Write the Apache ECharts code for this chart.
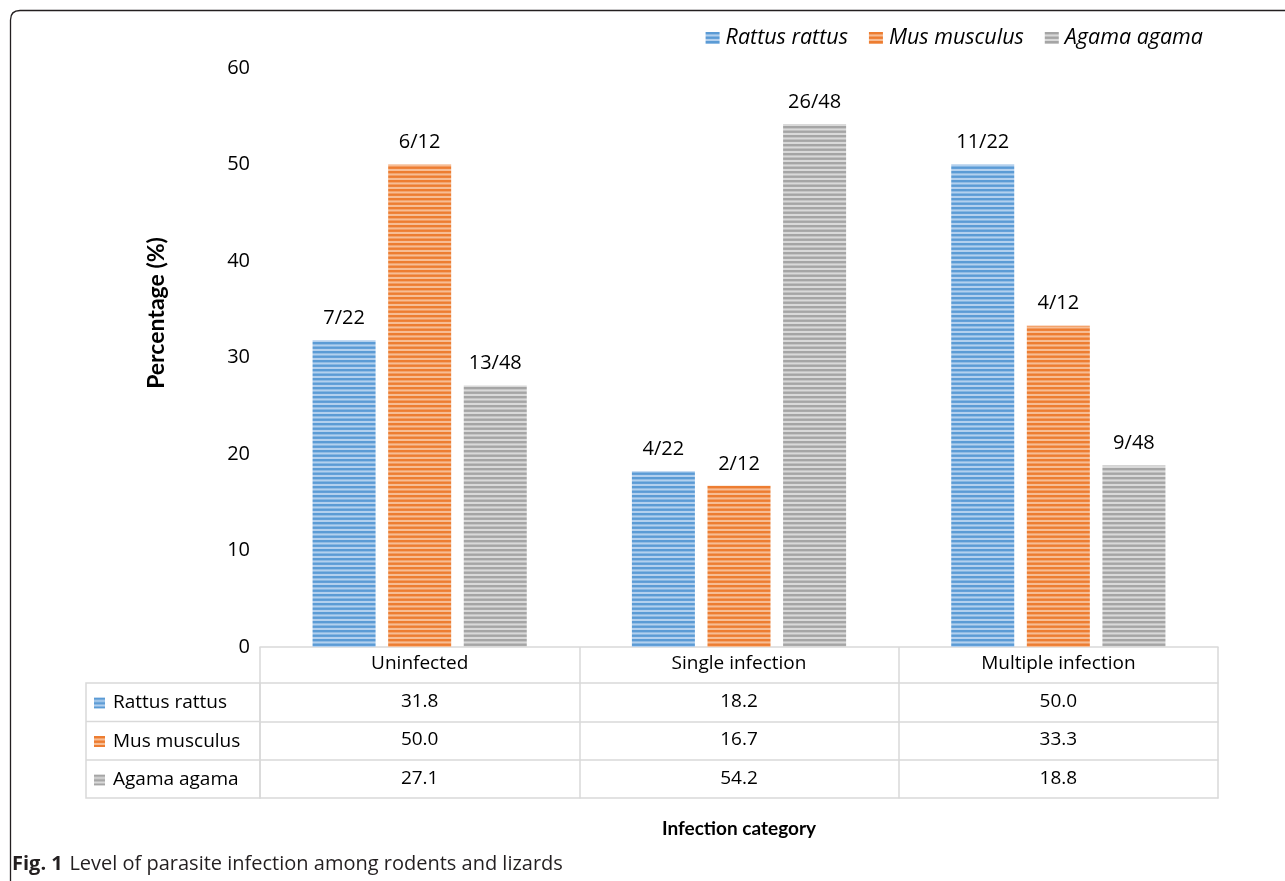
<!DOCTYPE html>
<html>
<head>
<meta charset="utf-8">
<script src="https://cdn.jsdelivr.net/npm/echarts@6/dist/echarts.min.js"></script>
<style>
html,body{margin:0;padding:0;background:#fff;}
#c{width:1285px;height:881px;}
</style>
</head>
<body>
<div id="c"></div>
<script>
const categories = ['Uninfected', 'Single infection', 'Multiple infection'];
const seriesNames = ['Rattus rattus', 'Mus musculus', 'Agama agama'];
const rattusValues = [31.8, 18.2, 50.0];
const musValues = [50.0, 16.7, 33.3];
const agamaValues = [27.1, 54.2, 18.8];
const rattusLabels = ['7/22', '4/22', '11/22'];
const musLabels = ['6/12', '2/12', '4/12'];
const agamaLabels = ['13/48', '26/48', '9/48'];
const yMin = 0, yMax = 60, yStep = 10;
const tableRows = [rattusValues, musValues, agamaValues];

const FONT = 'Open Sans';
const TFONT = 'Lato';
const GRID = '#d9d9d9';

function stripes(dark, light) {
  const c = document.createElement('canvas');
  c.width = 8; c.height = 9;
  const g = c.getContext('2d');
  g.fillStyle = light; g.fillRect(0, 0, 8, 9);
  g.fillStyle = dark;
  g.fillRect(0, 0, 8, 2.4);
  g.fillRect(0, 4.5, 8, 2.4);
  return c;
}
const fills = [
  {image: stripes('#5B9BD5', '#B3D0EE'), repeat: 'repeat'},
  {image: stripes('#ED7D31', '#F7BD94'), repeat: 'repeat'},
  {image: stripes('#A5A5A5', '#D9D9D9'), repeat: 'repeat'}
];
const seriesValues = [rattusValues, musValues, agamaValues];
const seriesLabels = [rattusLabels, musLabels, agamaLabels];

const chart = echarts.init(document.getElementById('c'), null, {renderer: 'canvas'});

const tableOffsets = [36, 74.5, 113];
const extraX = tableOffsets.map((off, r) => ({
  type: 'category', data: categories, gridIndex: 0, position: 'bottom', offset: off,
  axisLine: {show: true, lineStyle: {color: GRID, width: 1.5}},
  axisTick: {show: true, interval: 0, length: 38.5, lineStyle: {color: GRID, width: 1.5}},
  axisLabel: {interval: 0, margin: 9, fontFamily: FONT, fontSize: 19, color: '#000',
    formatter: (v, i) => tableRows[r][i].toFixed(1)},
  splitLine: {show: false}
}));

const option = {
  animation: false,
  backgroundColor: '#fff',
  textStyle: {fontFamily: FONT},
  legend: [
    {
      data: seriesNames, right: 77, top: 20, itemGap: 21, itemWidth: 14, itemHeight: 12,
      icon: 'rect', textStyle: {fontFamily: FONT, fontSize: 21.5, fontStyle: 'italic', color: '#000', lineHeight: 26, padding: [0, 0, 0, 1]},
      selectedMode: false
    },
    {
      data: seriesNames, orient: 'vertical', left: 89, top: 687, itemGap: 16.5, itemWidth: 11, itemHeight: 11,
      icon: 'rect', textStyle: {fontFamily: FONT, fontSize: 19, color: '#000', lineHeight: 22, padding: [0, 0, 0, 3]},
      selectedMode: false
    }
  ],
  grid: {left: 260, right: 67, top: 68, bottom: 234, containLabel: false},
  xAxis: [
    {
      type: 'category', data: categories, gridIndex: 0, position: 'bottom', offset: 0,
      axisLine: {show: true, lineStyle: {color: GRID, width: 1.5}},
      axisTick: {show: true, interval: 0, length: 36, lineStyle: {color: GRID, width: 1.5}},
      axisLabel: {interval: 0, margin: 7, fontFamily: FONT, fontSize: 19, color: '#000'},
      splitLine: {show: false}
    },
    ...extraX,
    {
      type: 'category', data: categories, gridIndex: 0, position: 'bottom', offset: 151,
      axisLine: {show: true, lineStyle: {color: GRID, width: 1.5}},
      axisTick: {show: false}, axisLabel: {show: false}, splitLine: {show: false},
      name: 'Infection category', nameLocation: 'middle', nameGap: 21,
      nameTextStyle: {fontFamily: TFONT, fontSize: 19, fontWeight: 'bold', color: '#000'}
    }
  ],
  yAxis: {
    type: 'value', min: yMin, max: yMax, interval: yStep,
    axisLine: {show: false}, axisTick: {show: false}, splitLine: {show: false},
    axisLabel: {margin: 10, fontFamily: FONT, fontSize: 20, color: '#000'}
  },
  series: seriesNames.map((name, s) => ({
    name: name, type: 'bar', xAxisIndex: 0, yAxisIndex: 0,
    data: seriesValues[s], barWidth: 63, barGap: '20%',
    itemStyle: {color: fills[s]},
    label: {show: true, position: 'top', distance: 12, fontFamily: FONT, fontSize: 20, color: '#000',
      formatter: p => seriesLabels[s][p.dataIndex]}
  })),
  graphic: [
    {type: 'line', shape: {x1: 10.5, y1: 881, x2: 10.5, y2: 20}, style: {stroke: '#231f20', lineWidth: 1.3}, silent: true},
    {type: 'bezierCurve', shape: {x1: 10.5, y1: 20, cpx1: 10.5, cpy1: 10.5, x2: 20, y2: 10.5},
     style: {fill: null, stroke: '#231f20', lineWidth: 1.3}, silent: true},
    {type: 'line', shape: {x1: 20, y1: 10.5, x2: 1285, y2: 10.5}, style: {stroke: '#231f20', lineWidth: 1.3}, silent: true},
    {type: 'rect', shape: {x: 86, y: 683, width: 174, height: 115},
     style: {fill: null, stroke: GRID, lineWidth: 1.5}, silent: true},
    {type: 'line', shape: {x1: 86, y1: 721.5, x2: 260, y2: 721.5}, style: {stroke: GRID, lineWidth: 1.5}, silent: true},
    {type: 'line', shape: {x1: 86, y1: 760, x2: 260, y2: 760}, style: {stroke: GRID, lineWidth: 1.5}, silent: true},
    {type: 'text', x: 157, y: 313, rotation: Math.PI / 2,
     style: {text: 'Percentage (%)', align: 'center', verticalAlign: 'middle',
       fontFamily: TFONT, fontWeight: 'bold', fontSize: 23, fill: '#000'}, silent: true},
    {type: 'text', x: 12, y: 864,
     style: {text: '{b|Fig. 1}  {n|Level of parasite infection among rodents and lizards}', verticalAlign: 'middle',
       rich: {b: {fontFamily: FONT, fontWeight: 'bold', fontSize: 20, fill: '#231f20'},
              n: {fontFamily: FONT, fontSize: 20, fill: '#231f20'}}}, silent: true}
  ]
};
chart.setOption(option);
</script>
</body>
</html>
